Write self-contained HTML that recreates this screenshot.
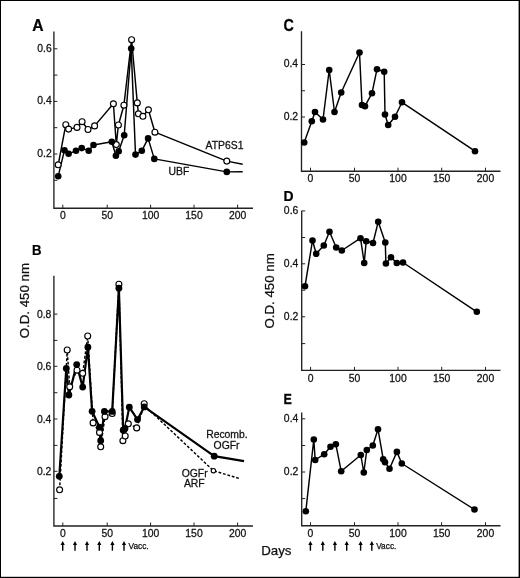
<!DOCTYPE html>
<html><head><meta charset="utf-8"><title>Figure</title>
<style>
html,body{margin:0;padding:0;background:#fff;}
body{width:520px;height:578px;overflow:hidden;position:relative;font-family:"Liberation Sans",sans-serif;}
svg{position:absolute;left:0;top:0;display:block;will-change:transform;}
text{font-family:"Liberation Sans",sans-serif;fill:#111;stroke:#111;stroke-width:0.25px;}
.t{font-size:10px;}
.p{font-size:15px;font-weight:bold;fill:#000;}
.y{font-size:13.3px;}
.v{font-size:8.3px;}
.l{fill:none;stroke:#000;stroke-width:1.45;stroke-linejoin:round;}
</style></head><body>
<svg width="520" height="578" viewBox="0 0 520 578">
<rect x="0" y="0" width="520" height="578" fill="#fff"/>
<rect x="0" y="0" width="520" height="1" fill="#000"/>
<rect x="0" y="0" width="1" height="578" fill="#000"/>
<rect x="518.6" y="0" width="1.4" height="578" fill="#000"/>
<rect x="0" y="576.8" width="520" height="1.2" fill="#000"/>
<path d="M53.9 31.5V208.2H253" fill="none" stroke="#222" stroke-width="1.35"/><path d="M53.9 48.8h3.5" stroke="#222" stroke-width="1"/><path d="M53.9 75.1h3.5" stroke="#222" stroke-width="1"/><path d="M53.9 101.4h3.5" stroke="#222" stroke-width="1"/><path d="M53.9 127.7h3.5" stroke="#222" stroke-width="1"/><path d="M53.9 154h3.5" stroke="#222" stroke-width="1"/><path d="M53.9 180.3h3.5" stroke="#222" stroke-width="1"/><path d="M62.8 208.2v-3.5" stroke="#222" stroke-width="1"/><path d="M107.2 208.2v-3.5" stroke="#222" stroke-width="1"/><path d="M150.6 208.2v-3.5" stroke="#222" stroke-width="1"/><path d="M194 208.2v-3.5" stroke="#222" stroke-width="1"/><path d="M237.6 208.2v-3.5" stroke="#222" stroke-width="1"/><text transform="translate(51.699999999999996 51.8) scale(1.04 1)" text-anchor="end" class="t">0.6</text><text transform="translate(51.699999999999996 104.4) scale(1.04 1)" text-anchor="end" class="t">0.4</text><text transform="translate(51.699999999999996 157.0) scale(1.04 1)" text-anchor="end" class="t">0.2</text><text transform="translate(62.8 219.3) scale(1.04 1)" text-anchor="middle" class="t">0</text><text transform="translate(107.2 219.3) scale(1.04 1)" text-anchor="middle" class="t">50</text><text transform="translate(150.6 219.3) scale(1.04 1)" text-anchor="middle" class="t">100</text><text transform="translate(194 219.3) scale(1.04 1)" text-anchor="middle" class="t">150</text><text transform="translate(237.6 219.3) scale(1.04 1)" text-anchor="middle" class="t">200</text><polyline points="58.2,164.8 65.8,124.7 68.6,129.1 77.0,127.4 82.1,121.7 88.0,129.5 94.6,125.9 113.4,103.8 116.3,144.6 118.4,125.0 123.9,105.2 131.6,39.7 137.3,102.9 138.4,113.8 142.9,116.3 148.4,109.8 154.9,132.2 226.8,161.1 242.7,164.3" class="l"/><polyline points="58.2,176.3 64.5,150.2 68.6,153.8 76.0,150.7 81.7,148.1 88.7,150.7 93.5,145.0 111.8,141.8 115.9,155.7 118.7,151.2 124.2,135.3 131.2,48.6 135.5,154.6 141.8,150.8 148.1,138.4 154.3,158.9 226.8,171.9 242.7,171.7" class="l"/><circle cx="58.2" cy="164.8" r="2.97" fill="#fff" stroke="#000" stroke-width="1.15"/><circle cx="65.8" cy="124.7" r="2.97" fill="#fff" stroke="#000" stroke-width="1.15"/><circle cx="68.6" cy="129.1" r="2.97" fill="#fff" stroke="#000" stroke-width="1.15"/><circle cx="77.0" cy="127.4" r="2.97" fill="#fff" stroke="#000" stroke-width="1.15"/><circle cx="82.1" cy="121.7" r="2.97" fill="#fff" stroke="#000" stroke-width="1.15"/><circle cx="88.0" cy="129.5" r="2.97" fill="#fff" stroke="#000" stroke-width="1.15"/><circle cx="94.6" cy="125.9" r="2.97" fill="#fff" stroke="#000" stroke-width="1.15"/><circle cx="113.4" cy="103.8" r="2.97" fill="#fff" stroke="#000" stroke-width="1.15"/><circle cx="116.3" cy="144.6" r="2.97" fill="#fff" stroke="#000" stroke-width="1.15"/><circle cx="118.4" cy="125.0" r="2.97" fill="#fff" stroke="#000" stroke-width="1.15"/><circle cx="123.9" cy="105.2" r="2.97" fill="#fff" stroke="#000" stroke-width="1.15"/><circle cx="131.6" cy="39.7" r="2.97" fill="#fff" stroke="#000" stroke-width="1.15"/><circle cx="137.3" cy="102.9" r="2.97" fill="#fff" stroke="#000" stroke-width="1.15"/><circle cx="138.4" cy="113.8" r="2.97" fill="#fff" stroke="#000" stroke-width="1.15"/><circle cx="142.9" cy="116.3" r="2.97" fill="#fff" stroke="#000" stroke-width="1.15"/><circle cx="148.4" cy="109.8" r="2.97" fill="#fff" stroke="#000" stroke-width="1.15"/><circle cx="154.9" cy="132.2" r="2.97" fill="#fff" stroke="#000" stroke-width="1.15"/><circle cx="226.8" cy="161.1" r="2.97" fill="#fff" stroke="#000" stroke-width="1.15"/><circle cx="58.2" cy="176.3" r="3.3" fill="#000"/><circle cx="64.5" cy="150.2" r="3.3" fill="#000"/><circle cx="68.6" cy="153.8" r="3.3" fill="#000"/><circle cx="76.0" cy="150.7" r="3.3" fill="#000"/><circle cx="81.7" cy="148.1" r="3.3" fill="#000"/><circle cx="88.7" cy="150.7" r="3.3" fill="#000"/><circle cx="93.5" cy="145.0" r="3.3" fill="#000"/><circle cx="111.8" cy="141.8" r="3.3" fill="#000"/><circle cx="115.9" cy="155.7" r="3.3" fill="#000"/><circle cx="118.7" cy="151.2" r="3.3" fill="#000"/><circle cx="124.2" cy="135.3" r="3.3" fill="#000"/><circle cx="131.2" cy="48.6" r="3.3" fill="#000"/><circle cx="135.5" cy="154.6" r="3.3" fill="#000"/><circle cx="141.8" cy="150.8" r="3.3" fill="#000"/><circle cx="148.1" cy="138.4" r="3.3" fill="#000"/><circle cx="154.3" cy="158.9" r="3.3" fill="#000"/><circle cx="226.8" cy="171.9" r="3.3" fill="#000"/><text transform="translate(205.6 149.1) scale(1.04 1)" text-anchor="start" class="t">ATP6S1</text><text transform="translate(168.6 175.4) scale(1.04 1)" text-anchor="start" class="t">UBF</text><text transform="translate(32.2 31.0) scale(0.98 1)" text-anchor="start" class="p" style="font-size:16px">A</text><path d="M53.9 275.8V526.0H253" fill="none" stroke="#222" stroke-width="1.35"/><path d="M53.9 314.1h3.5" stroke="#222" stroke-width="1"/><path d="M53.9 340.4h3.5" stroke="#222" stroke-width="1"/><path d="M53.9 366.3h3.5" stroke="#222" stroke-width="1"/><path d="M53.9 392.7h3.5" stroke="#222" stroke-width="1"/><path d="M53.9 419h3.5" stroke="#222" stroke-width="1"/><path d="M53.9 445.4h3.5" stroke="#222" stroke-width="1"/><path d="M53.9 471.3h3.5" stroke="#222" stroke-width="1"/><path d="M53.9 498.5h3.5" stroke="#222" stroke-width="1"/><path d="M62.8 526.0v-3.5" stroke="#222" stroke-width="1"/><path d="M107.2 526.0v-3.5" stroke="#222" stroke-width="1"/><path d="M150.6 526.0v-3.5" stroke="#222" stroke-width="1"/><path d="M194 526.0v-3.5" stroke="#222" stroke-width="1"/><path d="M237.6 526.0v-3.5" stroke="#222" stroke-width="1"/><text transform="translate(51.4 317.6) scale(1.04 1)" text-anchor="end" class="t">0.8</text><text transform="translate(51.4 369.8) scale(1.04 1)" text-anchor="end" class="t">0.6</text><text transform="translate(51.4 422.5) scale(1.04 1)" text-anchor="end" class="t">0.4</text><text transform="translate(51.4 474.8) scale(1.04 1)" text-anchor="end" class="t">0.2</text><text transform="translate(62.8 536.9) scale(1.04 1)" text-anchor="middle" class="t">0</text><text transform="translate(107.2 536.9) scale(1.04 1)" text-anchor="middle" class="t">50</text><text transform="translate(150.6 536.9) scale(1.04 1)" text-anchor="middle" class="t">100</text><text transform="translate(194 536.9) scale(1.04 1)" text-anchor="middle" class="t">150</text><text transform="translate(237.6 536.9) scale(1.04 1)" text-anchor="middle" class="t">200</text><polyline points="59.6,489.8 67.2,350.0 69.7,386.8 77.0,370.2 82.7,373.3 87.7,336.0 93.1,422.9 99.5,432.4 100.7,446.8 105.0,416.7 112.2,413.5 118.9,284.2 122.9,440.7 125.2,436.0 128.3,423.8 136.7,427.9 144.2,405.3 213.4,470.7 240.6,478.9" class="l" stroke-dasharray="2.8 1.8"/><polyline points="59.3,476.3 66.3,368.4 68.9,395.0 76.7,364.6 82.7,387.1 87.9,347.2 92.1,411.3 99.5,427.2 100.7,440.7 104.4,411.4 112.2,411.4 118.9,288.2 123.2,430.2 125.0,428.4 129.3,407.2 137.5,419.6 144.2,406.9 214.2,456.2 244.0,461.1" class="l" style="stroke-width:2.2"/><circle cx="59.6" cy="489.8" r="2.97" fill="#fff" stroke="#000" stroke-width="1.15"/><circle cx="67.2" cy="350.0" r="2.97" fill="#fff" stroke="#000" stroke-width="1.15"/><circle cx="69.7" cy="386.8" r="2.97" fill="#fff" stroke="#000" stroke-width="1.15"/><circle cx="77.0" cy="370.2" r="2.97" fill="#fff" stroke="#000" stroke-width="1.15"/><circle cx="82.7" cy="373.3" r="2.97" fill="#fff" stroke="#000" stroke-width="1.15"/><circle cx="87.7" cy="336.0" r="2.97" fill="#fff" stroke="#000" stroke-width="1.15"/><circle cx="93.1" cy="422.9" r="2.97" fill="#fff" stroke="#000" stroke-width="1.15"/><circle cx="99.5" cy="432.4" r="2.97" fill="#fff" stroke="#000" stroke-width="1.15"/><circle cx="100.7" cy="446.8" r="2.97" fill="#fff" stroke="#000" stroke-width="1.15"/><circle cx="105.0" cy="416.7" r="2.97" fill="#fff" stroke="#000" stroke-width="1.15"/><circle cx="112.2" cy="413.5" r="2.97" fill="#fff" stroke="#000" stroke-width="1.15"/><circle cx="118.9" cy="284.2" r="2.97" fill="#fff" stroke="#000" stroke-width="1.15"/><circle cx="122.9" cy="440.7" r="2.97" fill="#fff" stroke="#000" stroke-width="1.15"/><circle cx="125.2" cy="436.0" r="2.97" fill="#fff" stroke="#000" stroke-width="1.15"/><circle cx="128.3" cy="423.8" r="2.97" fill="#fff" stroke="#000" stroke-width="1.15"/><circle cx="136.7" cy="427.9" r="2.97" fill="#fff" stroke="#000" stroke-width="1.15"/><circle cx="144.2" cy="403.7" r="2.97" fill="#fff" stroke="#000" stroke-width="1.15"/><circle cx="213.4" cy="470.7" r="2.2" fill="#fff" stroke="#000" stroke-width="1.15"/><circle cx="59.3" cy="476.3" r="3.4" fill="#000"/><circle cx="66.3" cy="368.4" r="3.4" fill="#000"/><circle cx="68.9" cy="395.0" r="3.4" fill="#000"/><circle cx="76.7" cy="364.6" r="3.4" fill="#000"/><circle cx="82.7" cy="387.1" r="3.4" fill="#000"/><circle cx="87.9" cy="347.2" r="3.4" fill="#000"/><circle cx="92.1" cy="411.3" r="3.4" fill="#000"/><circle cx="99.5" cy="427.2" r="3.4" fill="#000"/><circle cx="100.7" cy="440.7" r="3.4" fill="#000"/><circle cx="104.4" cy="411.4" r="3.4" fill="#000"/><circle cx="112.2" cy="411.4" r="3.4" fill="#000"/><circle cx="118.9" cy="288.2" r="3.4" fill="#000"/><circle cx="123.2" cy="430.2" r="3.4" fill="#000"/><circle cx="125.0" cy="428.4" r="3.4" fill="#000"/><circle cx="129.3" cy="407.2" r="3.4" fill="#000"/><circle cx="137.5" cy="419.6" r="3.4" fill="#000"/><circle cx="144.2" cy="406.9" r="3.4" fill="#000"/><circle cx="214.2" cy="456.2" r="3.4" fill="#000"/><text transform="translate(226.9 437.9) scale(1.04 1)" text-anchor="middle" class="t">Recomb.</text><text transform="translate(226.6 448.7) scale(1.04 1)" text-anchor="middle" class="t">OGFr</text><text transform="translate(194.7 476.6) scale(1.04 1)" text-anchor="middle" class="t">OGFr</text><text transform="translate(194.3 487.2) scale(1.04 1)" text-anchor="middle" class="t">ARF</text><text transform="translate(32.0 255.4) scale(0.88 1)" text-anchor="start" class="p">B</text><text transform="translate(28.7 338.3) rotate(-90) scale(1.0 1)" text-anchor="start" class="y">O.D. 450 nm</text><path d="M62.7 550.7V543.0" stroke="#000" stroke-width="1.4"/><path d="M62.7 541.0l2.1 4h-4.2z" fill="#000"/><path d="M75 550.7V543.0" stroke="#000" stroke-width="1.4"/><path d="M75 541.0l2.1 4h-4.2z" fill="#000"/><path d="M87 550.7V543.0" stroke="#000" stroke-width="1.4"/><path d="M87 541.0l2.1 4h-4.2z" fill="#000"/><path d="M99.3 550.7V543.0" stroke="#000" stroke-width="1.4"/><path d="M99.3 541.0l2.1 4h-4.2z" fill="#000"/><path d="M112.4 550.7V543.0" stroke="#000" stroke-width="1.4"/><path d="M112.4 541.0l2.1 4h-4.2z" fill="#000"/><path d="M124 550.7V543.0" stroke="#000" stroke-width="1.4"/><path d="M124 541.0l2.1 4h-4.2z" fill="#000"/><text transform="translate(128.5 549) scale(1.0 1)" text-anchor="start" class="v">Vacc.</text><path d="M301.5 31.3V171.2H500.5" fill="none" stroke="#222" stroke-width="1.35"/><path d="M301.5 64.5h3.5" stroke="#222" stroke-width="1"/><path d="M301.5 90.75h3.5" stroke="#222" stroke-width="1"/><path d="M301.5 117h3.5" stroke="#222" stroke-width="1"/><path d="M301.5 143.2h3.5" stroke="#222" stroke-width="1"/><path d="M310.5 171.2v-3.5" stroke="#222" stroke-width="1"/><path d="M354.5 171.2v-3.5" stroke="#222" stroke-width="1"/><path d="M398 171.2v-3.5" stroke="#222" stroke-width="1"/><path d="M441.7 171.2v-3.5" stroke="#222" stroke-width="1"/><path d="M485.5 171.2v-3.5" stroke="#222" stroke-width="1"/><text transform="translate(298.1 67.2) scale(1.04 1)" text-anchor="end" class="t">0.4</text><text transform="translate(298.1 119.7) scale(1.04 1)" text-anchor="end" class="t">0.2</text><text transform="translate(310.5 182.2) scale(1.04 1)" text-anchor="middle" class="t">0</text><text transform="translate(354.5 182.2) scale(1.04 1)" text-anchor="middle" class="t">50</text><text transform="translate(398 182.2) scale(1.04 1)" text-anchor="middle" class="t">100</text><text transform="translate(441.7 182.2) scale(1.04 1)" text-anchor="middle" class="t">150</text><text transform="translate(485.5 182.2) scale(1.04 1)" text-anchor="middle" class="t">200</text><polyline points="304.2,142.5 311.8,121.2 315.0,112.0 323.0,119.5 329.2,70.0 334.5,112.0 341.2,92.5 359.5,52.5 362.0,105.0 365.0,106.2 372.0,93.2 377.0,69.2 384.2,71.8 385.0,114.5 388.2,125.0 395.0,116.8 402.0,102.3 475.0,151.2" class="l"/><circle cx="304.2" cy="142.5" r="3.3" fill="#000"/><circle cx="311.8" cy="121.2" r="3.3" fill="#000"/><circle cx="315.0" cy="112.0" r="3.3" fill="#000"/><circle cx="323.0" cy="119.5" r="3.3" fill="#000"/><circle cx="329.2" cy="70.0" r="3.3" fill="#000"/><circle cx="334.5" cy="112.0" r="3.3" fill="#000"/><circle cx="341.2" cy="92.5" r="3.3" fill="#000"/><circle cx="359.5" cy="52.5" r="3.3" fill="#000"/><circle cx="362.0" cy="105.0" r="3.3" fill="#000"/><circle cx="365.0" cy="106.2" r="3.3" fill="#000"/><circle cx="372.0" cy="93.2" r="3.3" fill="#000"/><circle cx="377.0" cy="69.2" r="3.3" fill="#000"/><circle cx="384.2" cy="71.8" r="3.3" fill="#000"/><circle cx="385.0" cy="114.5" r="3.3" fill="#000"/><circle cx="388.2" cy="125.0" r="3.3" fill="#000"/><circle cx="395.0" cy="116.8" r="3.3" fill="#000"/><circle cx="402.0" cy="102.3" r="3.3" fill="#000"/><circle cx="475.0" cy="151.2" r="3.3" fill="#000"/><text transform="translate(283.4 31.4) scale(0.87 1)" text-anchor="start" class="p" style="font-size:16.5px">C</text><path d="M301.7 210.7V370.4H500.5" fill="none" stroke="#222" stroke-width="1.35"/><path d="M301.7 210.9h3.5" stroke="#222" stroke-width="1"/><path d="M301.7 237.5h3.5" stroke="#222" stroke-width="1"/><path d="M301.7 263.8h3.5" stroke="#222" stroke-width="1"/><path d="M301.7 290.2h3.5" stroke="#222" stroke-width="1"/><path d="M301.7 316.8h3.5" stroke="#222" stroke-width="1"/><path d="M301.7 343.6h3.5" stroke="#222" stroke-width="1"/><path d="M310.6 370.4v-3.5" stroke="#222" stroke-width="1"/><path d="M354.5 370.4v-3.5" stroke="#222" stroke-width="1"/><path d="M398 370.4v-3.5" stroke="#222" stroke-width="1"/><path d="M441.7 370.4v-3.5" stroke="#222" stroke-width="1"/><path d="M485.5 370.4v-3.5" stroke="#222" stroke-width="1"/><text transform="translate(298.3 214.0) scale(1.04 1)" text-anchor="end" class="t">0.6</text><text transform="translate(298.3 266.90000000000003) scale(1.04 1)" text-anchor="end" class="t">0.4</text><text transform="translate(298.3 319.90000000000003) scale(1.04 1)" text-anchor="end" class="t">0.2</text><text transform="translate(310.6 381.6) scale(1.04 1)" text-anchor="middle" class="t">0</text><text transform="translate(354.5 381.6) scale(1.04 1)" text-anchor="middle" class="t">50</text><text transform="translate(398 381.6) scale(1.04 1)" text-anchor="middle" class="t">100</text><text transform="translate(441.7 381.6) scale(1.04 1)" text-anchor="middle" class="t">150</text><text transform="translate(485.5 381.6) scale(1.04 1)" text-anchor="middle" class="t">200</text><polyline points="305.0,286.2 312.5,240.5 316.2,253.8 323.8,245.5 329.5,231.8 336.2,247.5 341.8,250.5 360.5,238.2 364.2,263.0 366.2,241.2 373.0,243.0 378.2,221.8 385.3,242.5 385.9,263.5 391.0,257.2 396.8,263.0 403.0,262.5 476.8,311.8" class="l"/><circle cx="305.0" cy="286.2" r="3.3" fill="#000"/><circle cx="312.5" cy="240.5" r="3.3" fill="#000"/><circle cx="316.2" cy="253.8" r="3.3" fill="#000"/><circle cx="323.8" cy="245.5" r="3.3" fill="#000"/><circle cx="329.5" cy="231.8" r="3.3" fill="#000"/><circle cx="336.2" cy="247.5" r="3.3" fill="#000"/><circle cx="341.8" cy="250.5" r="3.3" fill="#000"/><circle cx="360.5" cy="238.2" r="3.3" fill="#000"/><circle cx="364.2" cy="263.0" r="3.3" fill="#000"/><circle cx="366.2" cy="241.2" r="3.3" fill="#000"/><circle cx="373.0" cy="243.0" r="3.3" fill="#000"/><circle cx="378.2" cy="221.8" r="3.3" fill="#000"/><circle cx="385.3" cy="242.5" r="3.3" fill="#000"/><circle cx="385.9" cy="263.5" r="3.3" fill="#000"/><circle cx="391.0" cy="257.2" r="3.3" fill="#000"/><circle cx="396.8" cy="263.0" r="3.3" fill="#000"/><circle cx="403.0" cy="262.5" r="3.3" fill="#000"/><circle cx="476.8" cy="311.8" r="3.3" fill="#000"/><text transform="translate(283.6 200.9) scale(0.93 1)" text-anchor="start" class="p">D</text><text transform="translate(273.9 328.6) rotate(-90) scale(1.0 1)" text-anchor="start" class="y">O.D. 450 nm</text><path d="M301.7 412.5V525.7H500.5" fill="none" stroke="#222" stroke-width="1.35"/><path d="M301.7 418.8h3.5" stroke="#222" stroke-width="1"/><path d="M301.7 445.5h3.5" stroke="#222" stroke-width="1"/><path d="M301.7 472h3.5" stroke="#222" stroke-width="1"/><path d="M301.7 498.6h3.5" stroke="#222" stroke-width="1"/><path d="M310.5 525.7v-3.5" stroke="#222" stroke-width="1"/><path d="M354.5 525.7v-3.5" stroke="#222" stroke-width="1"/><path d="M398 525.7v-3.5" stroke="#222" stroke-width="1"/><path d="M441.6 525.7v-3.5" stroke="#222" stroke-width="1"/><path d="M485.5 525.7v-3.5" stroke="#222" stroke-width="1"/><text transform="translate(298.3 421.5) scale(1.04 1)" text-anchor="end" class="t">0.4</text><text transform="translate(298.3 474.7) scale(1.04 1)" text-anchor="end" class="t">0.2</text><text transform="translate(310.5 536.5) scale(1.04 1)" text-anchor="middle" class="t">0</text><text transform="translate(354.5 536.5) scale(1.04 1)" text-anchor="middle" class="t">50</text><text transform="translate(398 536.5) scale(1.04 1)" text-anchor="middle" class="t">100</text><text transform="translate(441.6 536.5) scale(1.04 1)" text-anchor="middle" class="t">150</text><text transform="translate(485.5 536.5) scale(1.04 1)" text-anchor="middle" class="t">200</text><polyline points="305.8,511.2 313.8,439.5 315.2,460.0 324.2,454.2 330.5,446.8 335.8,444.2 341.2,471.2 360.8,455.0 363.8,472.5 366.8,450.0 372.8,445.5 378.0,429.2 383.2,459.2 385.0,462.2 389.5,468.8 396.9,451.9 401.8,463.5 474.5,509.5" class="l"/><circle cx="305.8" cy="511.2" r="3.3" fill="#000"/><circle cx="313.8" cy="439.5" r="3.3" fill="#000"/><circle cx="315.2" cy="460.0" r="3.3" fill="#000"/><circle cx="324.2" cy="454.2" r="3.3" fill="#000"/><circle cx="330.5" cy="446.8" r="3.3" fill="#000"/><circle cx="335.8" cy="444.2" r="3.3" fill="#000"/><circle cx="341.2" cy="471.2" r="3.3" fill="#000"/><circle cx="360.8" cy="455.0" r="3.3" fill="#000"/><circle cx="363.8" cy="472.5" r="3.3" fill="#000"/><circle cx="366.8" cy="450.0" r="3.3" fill="#000"/><circle cx="372.8" cy="445.5" r="3.3" fill="#000"/><circle cx="378.0" cy="429.2" r="3.3" fill="#000"/><circle cx="383.2" cy="459.2" r="3.3" fill="#000"/><circle cx="385.0" cy="462.2" r="3.3" fill="#000"/><circle cx="389.5" cy="468.8" r="3.3" fill="#000"/><circle cx="396.9" cy="451.9" r="3.3" fill="#000"/><circle cx="401.8" cy="463.5" r="3.3" fill="#000"/><circle cx="474.5" cy="509.5" r="3.3" fill="#000"/><text transform="translate(283.6 404.0) scale(0.84 1)" text-anchor="start" class="p">E</text><path d="M310.4 550.7V543.0" stroke="#000" stroke-width="1.4"/><path d="M310.4 541.0l2.1 4h-4.2z" fill="#000"/><path d="M322.8 550.7V543.0" stroke="#000" stroke-width="1.4"/><path d="M322.8 541.0l2.1 4h-4.2z" fill="#000"/><path d="M334.9 550.7V543.0" stroke="#000" stroke-width="1.4"/><path d="M334.9 541.0l2.1 4h-4.2z" fill="#000"/><path d="M346.7 550.7V543.0" stroke="#000" stroke-width="1.4"/><path d="M346.7 541.0l2.1 4h-4.2z" fill="#000"/><path d="M360.6 550.7V543.0" stroke="#000" stroke-width="1.4"/><path d="M360.6 541.0l2.1 4h-4.2z" fill="#000"/><path d="M371.8 550.7V543.0" stroke="#000" stroke-width="1.4"/><path d="M371.8 541.0l2.1 4h-4.2z" fill="#000"/><text transform="translate(376.2 549.2) scale(1.0 1)" text-anchor="start" class="v">Vacc.</text><text transform="translate(261.2 555) scale(1.0 1)" text-anchor="start" class="y">Days</text>
</svg>
</body></html>
